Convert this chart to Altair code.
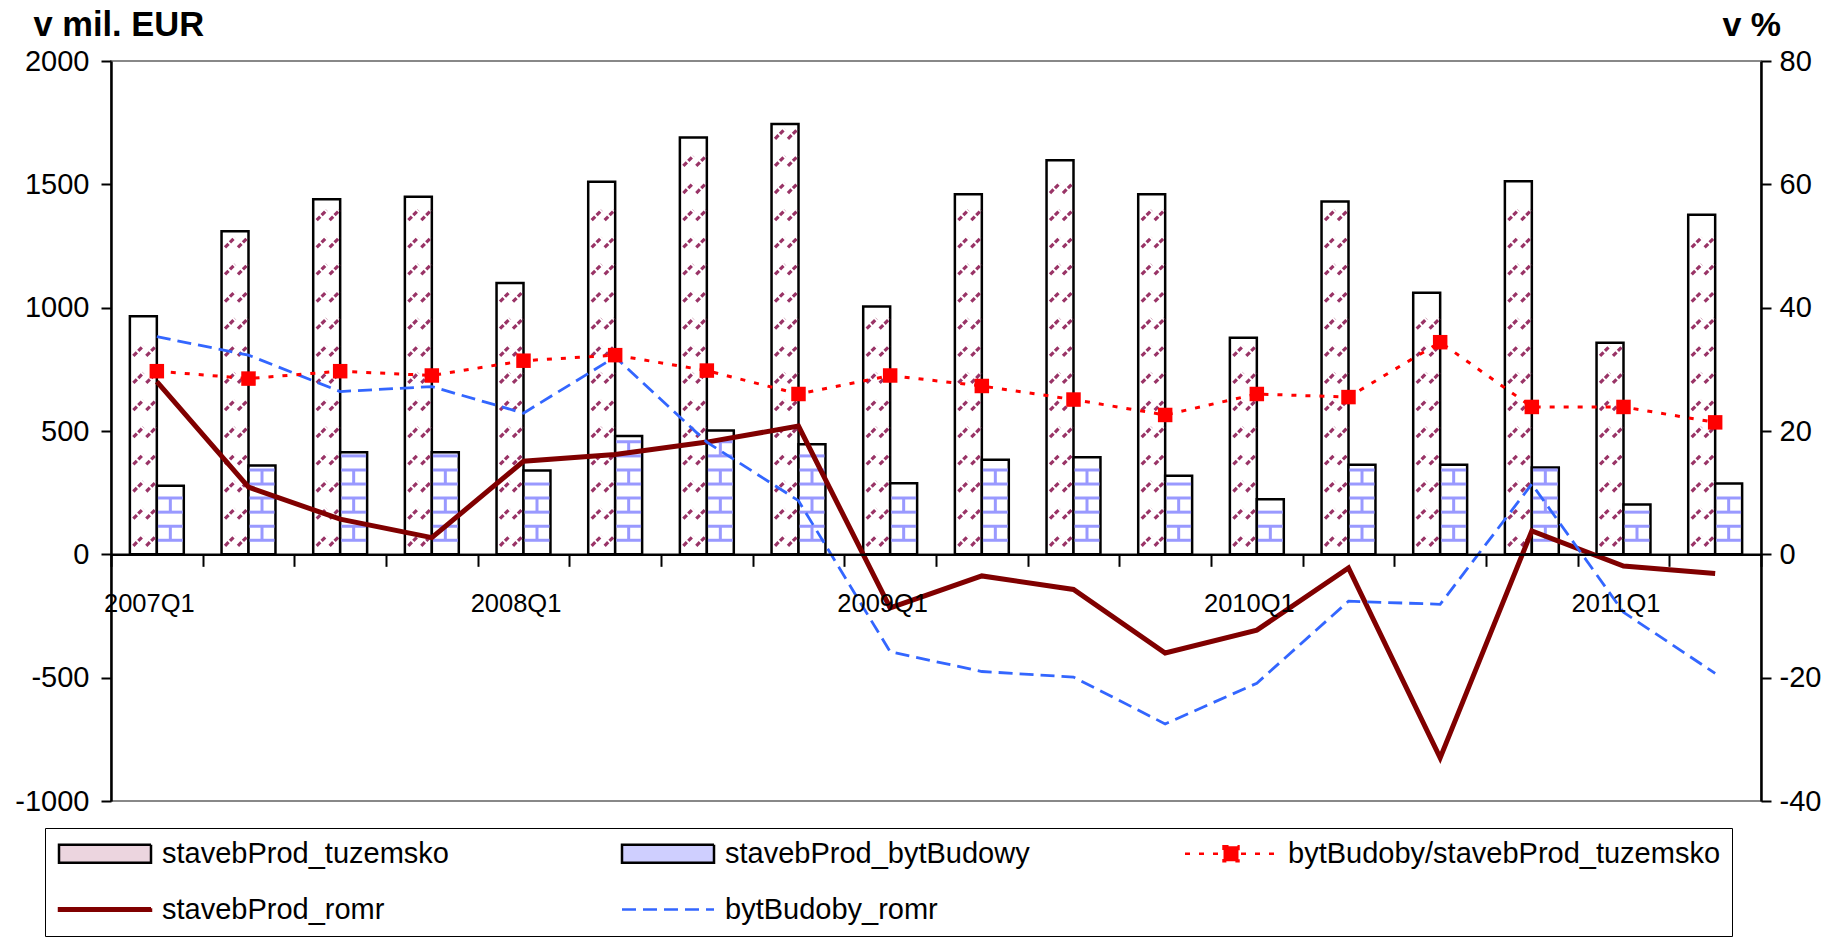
import altair as alt
import pandas as pd

FONT = "Liberation Sans"

quarters = ["2007Q1", "2007Q2", "2007Q3", "2007Q4", "2008Q1", "2008Q2", "2008Q3", "2008Q4",
            "2009Q1", "2009Q2", "2009Q3", "2009Q4", "2010Q1", "2010Q2", "2010Q3", "2010Q4",
            "2011Q1", "2011Q2"]

stavebProd_tuzemsko = [965, 1310, 1440, 1450, 1100, 1510, 1690, 1745, 1005, 1460,
                       1598, 1460, 878, 1430, 1060, 1512, 858, 1377]
stavebProd_bytBudovy = [278, 360, 414, 414, 340, 480, 502, 446, 288, 383,
                        394, 319, 223, 363, 363, 352, 202, 287]
bytBudoby_podil = [29.7, 28.5, 29.7, 29.0, 31.4, 32.3, 29.8, 26.0, 29.0, 27.3,
                   25.1, 22.6, 26.0, 25.5, 34.4, 23.9, 23.9, 21.4]
stavebProd_romr = [28.0, 10.9, 5.7, 2.7, 15.1, 16.2, 18.2, 20.8, -8.7, -3.5,
                   -5.7, -16.0, -12.3, -2.2, -33.0, 3.8, -1.9, -3.1]
bytBudoby_romr = [35.3, 32.3, 26.4, 27.2, 22.9, 32.0, 18.2, 8.7, -15.8, -19.0,
                  -19.9, -27.5, -20.9, -7.6, -8.1, 11.4, -9.4, -19.3]

T = "stavebProd_tuzemsko"
B = "stavebProd_bytBudowy"
R = "bytBudoby/stavebProd_tuzemsko"
S = "stavebProd_romr"
D = "bytBudoby_romr"
series_names = [T, B, R, S, D]
legend_stroke = ["black", "black", "#ff0000", "#800000", "#3366ff"]
legend_fill = ["#ecd5df", "#cfcfff", "#ff0000", "#800000", "transparent"]
legend_dash = [[1, 0], [1, 0], [5, 9], [1, 0], [14, 7]]
# legend symbol paths (unit = 11.5 px, symbol centre sits 11.5 px from entry start)
BAR_SYM = "M-1,-0.78H7V0.78H-1Z"
THICK_SYM = "M-1,-0.1H7V0.1H-1Z"
LINE_SYM = "M-1,0H7"
RATIO_SYM = "M-1,0H7M2.35,-0.65H3.65V0.65H2.35Z"
legend_shape = [BAR_SYM, BAR_SYM, RATIO_SYM, THICK_SYM, LINE_SYM]

n = len(quarters)
bars_df = pd.DataFrame({
    "quarter": quarters * 2,
    "series": [T] * n + [B] * n,
    "value": stavebProd_tuzemsko + stavebProd_bytBudovy,
})
lines_df = pd.DataFrame({
    "quarter": quarters * 3,
    "series": [R] * n + [S] * n + [D] * n,
    "pct": bytBudoby_podil + stavebProd_romr + bytBudoby_romr,
})

x_axis = alt.Axis(
    title=None, orient="bottom", offset=-246.67, domain=True, domainColor="black",
    domainWidth=2.5, ticks=True, tickBand="extent", tickColor="black", tickWidth=2,
    tickSize=12, labelExpr="indexof(datum.label, 'Q1') > 0 ? datum.label : ''",
    labelAngle=0, labelFont=FONT, labelFontSize=25.5, labelColor="black",
    labelPadding=25, labelOffset=-8, labelOverlap=False, grid=False, zindex=2,
)
x_enc = alt.X("quarter:N", scale=alt.Scale(domain=quarters, paddingInner=0, paddingOuter=0),
              axis=x_axis)

left_scale = alt.Scale(domain=[-1000, 2000], nice=False, zero=False)
left_axis = alt.Axis(
    values=[-1000, -500, 0, 500, 1000, 1500, 2000], orient="left", domain=True,
    domainColor="black", domainWidth=2.5, ticks=True, tickColor="black", tickWidth=2,
    tickSize=10, labelFont=FONT, labelFontSize=29, labelColor="black", labelPadding=12,
    labelExpr="'' + datum.value",
    grid=False, title="v mil. EUR", titleFont=FONT, titleFontSize=34.5, titleFontWeight="bold",
    titleColor="black", titleAngle=0, titleAlign="left", titleBaseline="middle",
    titleX=-78, titleY=-36,
)
right_scale = alt.Scale(domain=[-40, 80], nice=False, zero=False)
right_axis = alt.Axis(
    values=[-40, -20, 0, 20, 40, 60, 80], orient="right", domain=True,
    domainColor="black", domainWidth=2.5, ticks=True, tickColor="black", tickWidth=2,
    tickSize=10, labelFont=FONT, labelFontSize=29, labelColor="black", labelPadding=8,
    labelExpr="'' + datum.value",
    grid=False, title="v %", titleFont=FONT, titleFontSize=34, titleFontWeight="bold",
    titleColor="black", titleAngle=0, titleAlign="left", titleBaseline="middle",
    titleX=-39, titleY=-36,
)

legend = alt.Legend(
    title=None, orient="none", legendX=-66, legendY=767, direction="horizontal",
    columns=3, gridAlign="all", columnPadding=22, rowPadding=26, padding=11,
    symbolSize=529, symbolOpacity=1, symbolStrokeWidth=2.5, labelFont=FONT,
    labelFontSize=29, labelColor="black", labelLimit=1000, labelOffset=77,
    strokeColor="black", fillColor="white",
)

bars = alt.Chart(bars_df).mark_bar(fill="white", stroke="black", strokeWidth=2.5).encode(
    x=x_enc,
    xOffset=alt.XOffset("series:N", scale=alt.Scale(domain=[T, B], paddingInner=0,
                                                    paddingOuter=0.7)),
    y=alt.Y("value:Q", scale=left_scale, axis=left_axis),
)

# hatch texture of the tuzemsko bars (rows of short dashed diagonals inside each bar)
TUZ_PATH = "M-0.74,0.37L0,-0.37M0.22,0.37L0.96,-0.37"
tuz_tex = alt.Chart(bars_df).transform_filter(alt.datum.series == T).transform_calculate(
    lv="sequence(55, datum.value - 30, 110)"
).transform_flatten(["lv"]).mark_point(
    shape=TUZ_PATH, size=729, filled=False, stroke="#993366", strokeWidth=3.2,
    strokeDash=[5, 2], opacity=1, xOffset=-13.5,
).encode(x=x_enc, y=alt.Y("lv:Q", scale=left_scale, axis=left_axis))

# brick texture of the bytBudovy bars
BRICK_A = "M-0.92,0H0.92M0,0V1.05"
BRICK_B = "M-0.92,0H0.92"
byt_base = alt.Chart(bars_df).transform_filter(alt.datum.series == B).transform_calculate(
    lv="sequence(57, datum.value - 8, 57)"
).transform_flatten(["lv"]).transform_calculate(
    par="round(datum.lv / 57) % 2"
)
byt_tex_a = byt_base.transform_filter("datum.par == 0").mark_point(
    shape=BRICK_A, size=729, filled=False, stroke="#9999ff", strokeWidth=3, opacity=1,
    xOffset=13.5,
).encode(x=x_enc, y=alt.Y("lv:Q", scale=left_scale, axis=left_axis))
byt_tex_b = byt_base.transform_filter("datum.par == 1").mark_point(
    shape=BRICK_B, size=729, filled=False, stroke="#9999ff", strokeWidth=3, opacity=1,
    xOffset=13.5,
).encode(x=x_enc, y=alt.Y("lv:Q", scale=left_scale, axis=left_axis))

y_right = alt.Y("pct:Q", scale=right_scale, axis=right_axis)
base_r = alt.Chart(lines_df)
romr_line = base_r.transform_filter(alt.datum.series == S).mark_line(
    stroke="#800000", strokeWidth=5).encode(x=x_enc, y=y_right)
byt_line = base_r.transform_filter(alt.datum.series == D).mark_line(
    stroke="#3366ff", strokeWidth=2.8, strokeDash=[14, 7]).encode(x=x_enc, y=y_right)
ratio_line = base_r.transform_filter(alt.datum.series == R).mark_line(
    stroke="#ff0000", strokeWidth=3, strokeDash=[5, 9]).encode(x=x_enc, y=y_right)
ratio_pts = base_r.transform_filter(alt.datum.series == R).mark_point(
    shape="square", filled=True, fill="#ff0000", size=210, opacity=1,
    strokeWidth=0).encode(x=x_enc, y=y_right)

# legend carrier: no visible marks, one merged legend built from the series scales
legend_layer = base_r.transform_filter("false").mark_point(filled=True, opacity=1).encode(
    x=x_enc, y=y_right,
    stroke=alt.Stroke("series:N", scale=alt.Scale(domain=series_names, range=legend_stroke),
                      legend=legend),
    fill=alt.Fill("series:N", scale=alt.Scale(domain=series_names, range=legend_fill),
                  legend=legend),
    shape=alt.Shape("series:N", scale=alt.Scale(domain=series_names, range=legend_shape),
                    legend=legend),
    strokeDash=alt.StrokeDash("series:N", scale=alt.Scale(domain=series_names, range=legend_dash),
                              legend=legend),
)

left = alt.layer(bars, tuz_tex, byt_tex_a, byt_tex_b)
right = alt.layer(romr_line, byt_line, ratio_line, ratio_pts, legend_layer)

chart = alt.layer(left, right).resolve_scale(y="independent").properties(
    width=1650, height=740,
    padding={"left": 111, "top": 61, "right": 66, "bottom": 137},
    autosize=alt.AutoSizeParams(type="none"),
    background="white",
).configure_view(stroke="#888888", strokeWidth=2)

chart.save("out.html", embed_options={"renderer": "svg", "actions": False})
